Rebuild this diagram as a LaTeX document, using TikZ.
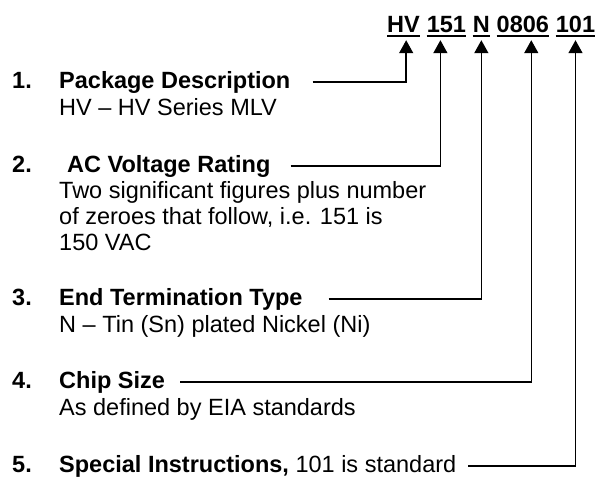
\documentclass[tikz,border=0pt]{standalone}
\usepackage{fontspec}
\setmainfont{Liberation Sans}
\usetikzlibrary{positioning,calc,arrows.meta}

\begin{document}
\begin{tikzpicture}[x=1pt, y=-1pt, part/.style={inner sep=0pt, anchor=base west, text height=17pt, text depth=4pt, font=\fontsize{23.5}{27}\selectfont\bfseries}, num/.style={inner sep=0pt, anchor=base west, font=\fontsize{23.5}{27}\selectfont\bfseries}, title/.style={inner sep=0pt, anchor=base west, text height=17pt, text depth=5pt, font=\fontsize{23.5}{27}\selectfont\bfseries}, desc/.style={inner sep=0pt, anchor=base west, align=left, font=\fontsize{23.5}{26}\selectfont}, uline/.style={line width=2pt}, leader/.style={-{Triangle[length=13pt,width=14pt]}, line width=1.5pt}]
\useasboundingbox (0,0) rectangle (597,477);
% part number
\node[part] (pHV) at (387,32) {HV};
\node[part, base right=6.5pt of pHV] (p151) {151};
\node[part, base right=6.5pt of p151] (pN) {N};
\node[part, base right=6.5pt of pN] (p0806) {0806};
\node[part, base right=6.5pt of p0806] (p101) {101};
\foreach \p in {pHV,p151,pN,p0806,p101}
  \draw[uline] (\p.south west) -- (\p.south east);
\coordinate (tHV) at ($(pHV.south west)!0.58!(pHV.south east)+(0,4)$);
\coordinate (t151) at ($(p151.south west)!0.35!(p151.south east)+(0,4)$);
\coordinate (tN) at ($(pN.south west)!0.5!(pN.south east)+(0,4)$);
\coordinate (t0806) at ($(p0806.south west)!0.66!(p0806.south east)+(0,4)$);
\coordinate (t101) at ($(p101.south west)!0.5!(p101.south east)+(0,4)$);
% items
\node[num] (n1) at (12,88) {1.};
\node[title] (t1) at (59,88) {Package Description};
\node[desc] (d1) at (59,115) {HV – HV Series MLV};
\node[num] (n2) at (12,172) {2.};
\node[title] (t2) at (67,172) {AC Voltage Rating};
\node[desc, anchor=north west] (d2) at (59,181) {Two significant figures plus number\\of zeroes that follow, i.e. 151 is\\150 VAC};
\node[num] (n3) at (12,305) {3.};
\node[title] (t3) at (59,305) {End Termination Type};
\node[desc] (d3) at (59,332) {N – Tin (Sn) plated Nickel (Ni)};
\node[num] (n4) at (12,388) {4.};
\node[title] (t4) at (59,388) {Chip Size};
\node[desc] (d4) at (59,415) {As defined by EIA standards};
\node[num] (n5) at (12,472) {5.};
\node[title] (t5) at (59,472) {Special Instructions, {\mdseries 101 is standard}};
% leaders
\draw[leader] ([xshift=22pt]t1.east) -| (tHV);
\draw[leader] ([xshift=20pt]t2.east) -| (t151);
\draw[leader] ([xshift=26pt]t3.east) -| (tN);
\draw[leader] ([xshift=15pt]t4.east) -| (t0806);
\draw[leader] ([xshift=12pt]t5.east) -| (t101);
\end{tikzpicture}
\end{document}
